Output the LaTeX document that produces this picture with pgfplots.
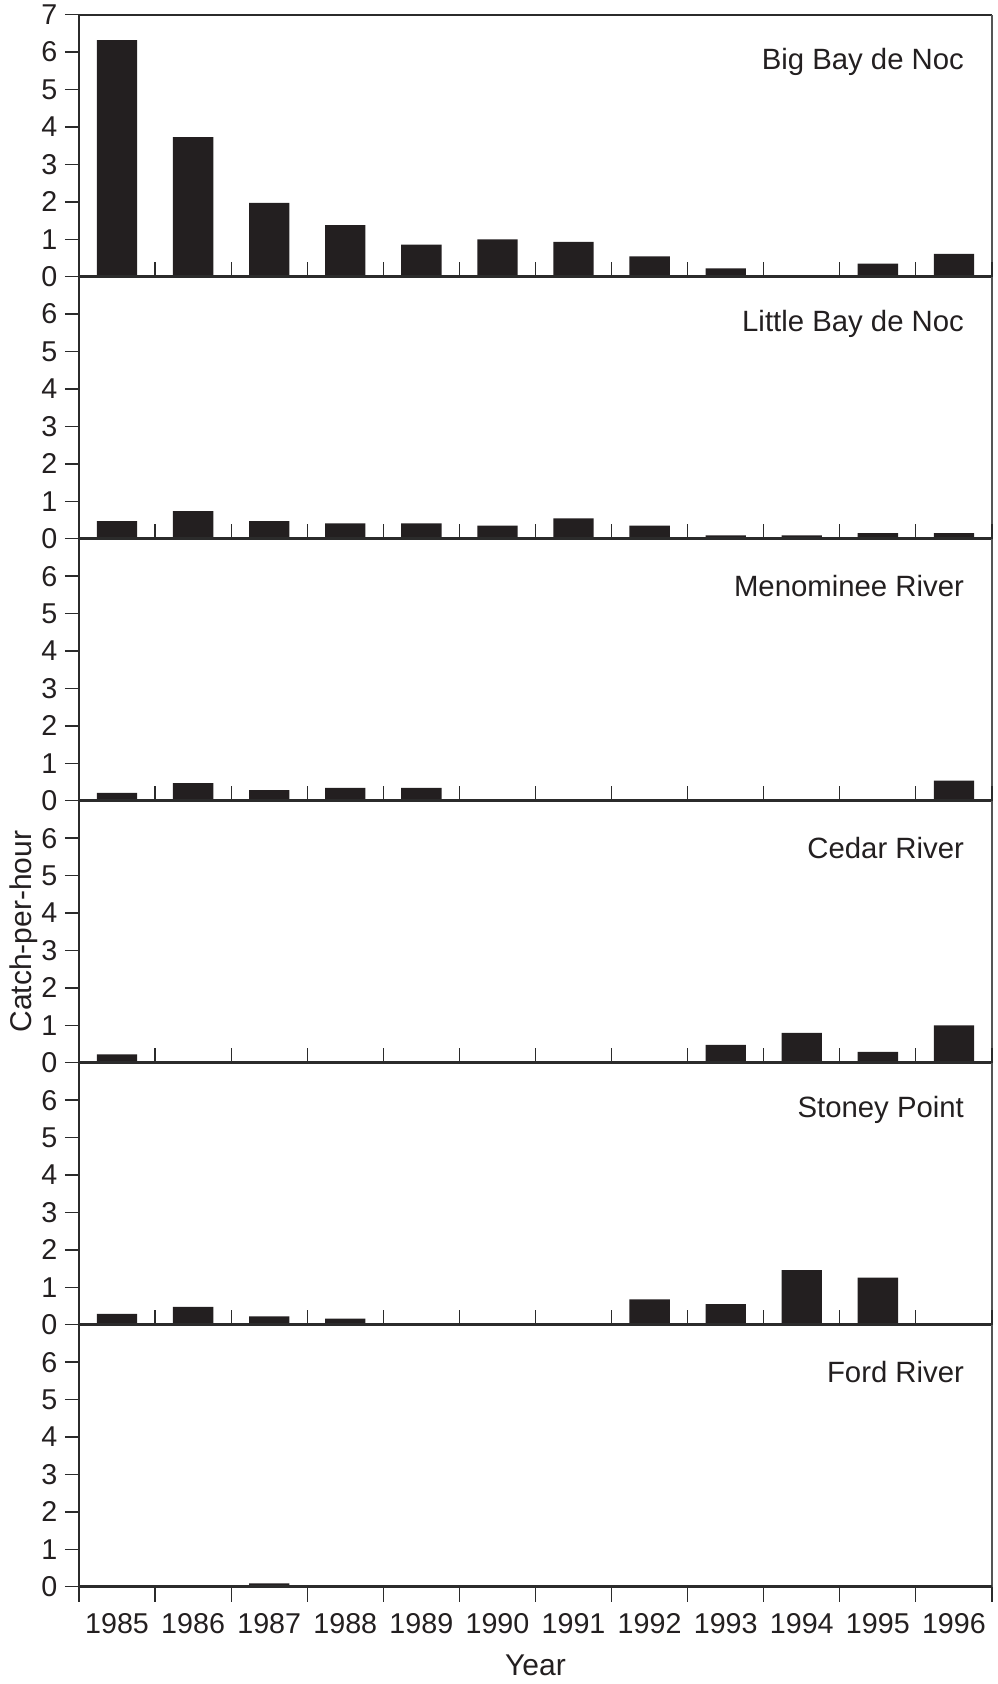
\documentclass[border=0pt]{standalone}
\usepackage{fontspec}
\setmainfont{Liberation Sans}
\usepackage{pgfplots}
\usepackage{pgfplotstable}
\pgfplotsset{compat=1.18}
\definecolor{barc}{HTML}{231F20}
\definecolor{axc}{HTML}{2B2B2B}

\pgfplotstableread{
x big little meno cedar stoney ford
0 6.32 0.47 0.21 0.22 0.29 0.02
1 3.73 0.74 0.47 0 0.48 0.02
2 1.97 0.47 0.28 0 0.22 0.09
3 1.38 0.41 0.34 0 0.16 0
4 0.86 0.41 0.34 0 0 0
5 1.00 0.35 0 0 0 0
6 0.93 0.54 0 0 0 0
7 0.54 0.35 0 0 0.68 0
8 0.22 0.09 0 0.48 0.55 0
9 0.03 0.09 0 0.80 1.46 0
10 0.35 0.15 0 0.29 1.26 0
11 0.61 0.15 0.54 1.00 0 0
}\data

\pgfplotsset{
  panel/.style={
    scale only axis, width=273.9pt, height=78.6pt,
    xmin=-0.5, xmax=11.5, ymin=0, ymax=7,
    axis x line*=bottom, axis y line*=left,
    clip=false, axis on top,
    xtick={0,...,11},
    major x tick style={draw=none},
    minor xtick={-0.5,0.5,...,11.5},
    minor tick length=4.5pt, major tick length=4.2pt,
    xtick align=inside, ytick align=outside,
    x axis line style={line width=0.8pt, color=axc},
    y axis line style={line width=0.6pt, color=axc},
    minor x tick style={line width=0.35pt, color=axc},
    major y tick style={line width=0.4pt, color=axc},
    ticklabel style={font=\fontsize{8.6}{10}\selectfont, color=barc},
    /pgf/number format/assume math mode=true,
    yticklabel style={anchor=east, inner sep=0pt, xshift=-2.1pt},
    xticklabel=\empty,
  },
  barsty/.style={ybar, bar width=0.53, fill=barc, draw=none},
}
\tikzset{
  plabel/.style={anchor=east, inner sep=0pt, font=\fontsize{8.8}{10}\selectfont, text=barc},
  rline/.style={line width=0.45pt, color=axc!80},
}

\begin{document}
\begin{tikzpicture}
\useasboundingbox (-23.7pt,4.41pt) rectangle (275.7pt,-500.8pt);

\begin{axis}[panel, name=p1, at={(0,0)}, anchor=north west, ytick={0,...,7}]
\addplot[barsty] table[x=x,y=big]{\data};
\node[plabel] at (rel axis cs:0.970,0.819) {Big Bay de Noc};
\draw[line width=0.7pt, color=axc] (rel axis cs:0,1) -- (rel axis cs:1,1);
\draw[rline] (rel axis cs:1,0) -- (rel axis cs:1,1);
\end{axis}

\begin{axis}[panel, name=p2, at={(p1.south west)}, anchor=north west, ytick={0,...,6}]
\addplot[barsty] table[x=x,y=little]{\data};
\node[plabel] at (rel axis cs:0.970,0.819) {Little Bay de Noc};
\draw[rline] (rel axis cs:1,0) -- (rel axis cs:1,1);
\end{axis}

\begin{axis}[panel, name=p3, at={(p2.south west)}, anchor=north west, ytick={0,...,6}]
\addplot[barsty] table[x=x,y=meno]{\data};
\node[plabel] at (rel axis cs:0.970,0.819) {Menominee River};
\draw[rline] (rel axis cs:1,0) -- (rel axis cs:1,1);
\end{axis}

\begin{axis}[panel, name=p4, at={(p3.south west)}, anchor=north west, ytick={0,...,6},
  ylabel={Catch-per-hour},
  ylabel style={at={(axis description cs:-0.060,0.5)}, anchor=center, font=\fontsize{9}{10}\selectfont, text=barc}]
\addplot[barsty] table[x=x,y=cedar]{\data};
\node[plabel] at (rel axis cs:0.970,0.819) {Cedar River};
\draw[rline] (rel axis cs:1,0) -- (rel axis cs:1,1);
\end{axis}

\begin{axis}[panel, name=p5, at={(p4.south west)}, anchor=north west, ytick={0,...,6}]
\addplot[barsty] table[x=x,y=stoney]{\data};
\node[plabel] at (rel axis cs:0.970,0.819) {Stoney Point};
\draw[rline] (rel axis cs:1,0) -- (rel axis cs:1,1);
\end{axis}

\begin{axis}[panel, name=p6, at={(p5.south west)}, anchor=north west, ytick={0,...,6},
  xtick align=outside,
  xticklabels={1985,1986,1987,1988,1989,1990,1991,1992,1993,1994,1995,1996},
  xticklabel style={anchor=north, inner sep=0pt, yshift=-3.6pt},
  xlabel={Year},
  xlabel style={at={(axis description cs:0.5,0)}, anchor=center, yshift=-23.7pt, font=\fontsize{9}{10}\selectfont, text=barc}]
\addplot[barsty] table[x=x,y=ford]{\data};
\node[plabel] at (rel axis cs:0.970,0.819) {Ford River};
\draw[rline] (rel axis cs:1,0) -- (rel axis cs:1,1);
\end{axis}
\end{tikzpicture}
\end{document}
